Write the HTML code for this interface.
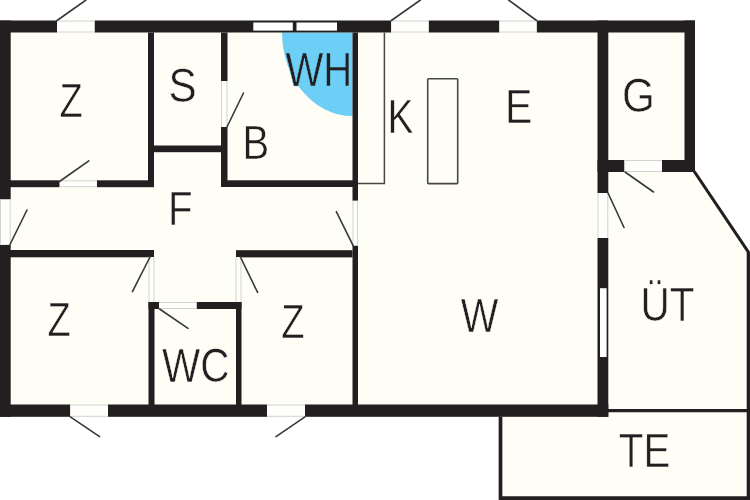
<!DOCTYPE html>
<html><head><meta charset="utf-8"><title>Floor plan</title>
<style>html,body{margin:0;padding:0;background:#fff;overflow:hidden}svg{display:block}text{font-family:"Liberation Sans",sans-serif}</style>
</head><body>
<svg width="750" height="500" viewBox="0 0 750 500">
<polygon points="0,20.5 695,20.5 695,172 749,252.5 749,499 500,499 500,416.8 0,416.8" fill="#fefef6"/>
<path d="M282,32.5 L352.5,32.5 L352.5,116 A70.5,83.5 0 0 1 282,32.5 Z" fill="#6dcff6"/>
<rect x="0" y="20.5" width="57" height="12.0" fill="#231f20" />
<rect x="94.5" y="20.5" width="296.8" height="12.0" fill="#231f20" />
<rect x="428.6" y="20.5" width="70.8" height="12.0" fill="#231f20" />
<rect x="536.6" y="20.5" width="158.4" height="12.0" fill="#231f20" />
<rect x="0" y="20.5" width="10.7" height="179.0" fill="#231f20" />
<rect x="0" y="244.7" width="10.7" height="172.1" fill="#231f20" />
<rect x="0" y="404.5" width="70.3" height="12.3" fill="#231f20" />
<rect x="108" y="404.5" width="159" height="12.3" fill="#231f20" />
<rect x="305" y="404.5" width="303.3" height="12.3" fill="#231f20" />
<rect x="597.5" y="20.5" width="10.8" height="172.5" fill="#231f20" />
<rect x="597.5" y="238" width="10.8" height="178.8" fill="#231f20" />
<rect x="684.5" y="20.5" width="10.5" height="151.5" fill="#231f20" />
<rect x="597.5" y="160" width="27.0" height="12" fill="#231f20" />
<rect x="662" y="160" width="33" height="12" fill="#231f20" />
<rect x="148" y="32.5" width="6" height="154.5" fill="#231f20" />
<rect x="10" y="180.3" width="49.7" height="6.9" fill="#231f20" />
<rect x="96.8" y="180.3" width="57.2" height="6.9" fill="#231f20" />
<rect x="221" y="32.5" width="6.5" height="48.5" fill="#231f20" />
<rect x="221" y="127" width="6.5" height="60" fill="#231f20" />
<rect x="154" y="145.5" width="67" height="6.7" fill="#231f20" />
<rect x="221" y="180.3" width="137" height="6.7" fill="#231f20" />
<rect x="352.5" y="32.5" width="5.5" height="168.3" fill="#231f20" />
<rect x="352.5" y="245.5" width="5.5" height="159.5" fill="#231f20" />
<rect x="10" y="250" width="144" height="7.3" fill="#231f20" />
<rect x="236" y="250.2" width="116.5" height="7.2" fill="#231f20" />
<rect x="148.5" y="302" width="6.0" height="103" fill="#231f20" />
<rect x="236" y="302" width="5.5" height="103" fill="#231f20" />
<rect x="148.5" y="302" width="10.5" height="7" fill="#231f20" />
<rect x="196.5" y="302" width="45.0" height="7" fill="#231f20" />
<rect x="57" y="20.5" width="37.5" height="12.0" fill="#fefefb" /><line x1="57" y1="21.0" x2="94.5" y2="21.0" stroke="#d2d2d0" stroke-width="1"/><line x1="57" y1="32.0" x2="94.5" y2="32.0" stroke="#d2d2d0" stroke-width="1"/>
<rect x="391.3" y="20.5" width="37.3" height="12.0" fill="#fefefb" /><line x1="391.3" y1="21.0" x2="428.6" y2="21.0" stroke="#d2d2d0" stroke-width="1"/><line x1="391.3" y1="32.0" x2="428.6" y2="32.0" stroke="#d2d2d0" stroke-width="1"/>
<rect x="499.4" y="20.5" width="37.2" height="12.0" fill="#fefefb" /><line x1="499.4" y1="21.0" x2="536.6" y2="21.0" stroke="#d2d2d0" stroke-width="1"/><line x1="499.4" y1="32.0" x2="536.6" y2="32.0" stroke="#d2d2d0" stroke-width="1"/>
<rect x="70.3" y="404.5" width="37.7" height="12.3" fill="#fefefb" /><line x1="70.3" y1="405.0" x2="108" y2="405.0" stroke="#d2d2d0" stroke-width="1"/><line x1="70.3" y1="416.3" x2="108" y2="416.3" stroke="#d2d2d0" stroke-width="1"/>
<rect x="267" y="404.5" width="38" height="12.3" fill="#fefefb" /><line x1="267" y1="405.0" x2="305" y2="405.0" stroke="#d2d2d0" stroke-width="1"/><line x1="267" y1="416.3" x2="305" y2="416.3" stroke="#d2d2d0" stroke-width="1"/>
<rect x="59.7" y="180.3" width="37.1" height="6.9" fill="#fefefb" /><line x1="59.7" y1="180.8" x2="96.8" y2="180.8" stroke="#d2d2d0" stroke-width="1"/><line x1="59.7" y1="186.7" x2="96.8" y2="186.7" stroke="#d2d2d0" stroke-width="1"/>
<rect x="159" y="302" width="37.5" height="7" fill="#fefefb" /><line x1="159" y1="302.5" x2="196.5" y2="302.5" stroke="#d2d2d0" stroke-width="1"/><line x1="159" y1="308.5" x2="196.5" y2="308.5" stroke="#d2d2d0" stroke-width="1"/>
<rect x="624.5" y="160" width="37.5" height="12" fill="#fefefb" /><line x1="624.5" y1="160.5" x2="662" y2="160.5" stroke="#d2d2d0" stroke-width="1"/><line x1="624.5" y1="171.5" x2="662" y2="171.5" stroke="#d2d2d0" stroke-width="1"/>
<rect x="0" y="199.5" width="10.7" height="45.2" fill="#fefefb" /><line x1="0.5" y1="199.5" x2="0.5" y2="244.7" stroke="#d2d2d0" stroke-width="1"/><line x1="10.2" y1="199.5" x2="10.2" y2="244.7" stroke="#d2d2d0" stroke-width="1"/>
<rect x="221" y="81" width="6.5" height="46" fill="#fefefb" /><line x1="221.5" y1="81" x2="221.5" y2="127" stroke="#d2d2d0" stroke-width="1"/><line x1="227.0" y1="81" x2="227.0" y2="127" stroke="#d2d2d0" stroke-width="1"/>
<rect x="352.5" y="200.8" width="5.5" height="44.7" fill="#fefefb" /><line x1="353.0" y1="200.8" x2="353.0" y2="245.5" stroke="#d2d2d0" stroke-width="1"/><line x1="357.5" y1="200.8" x2="357.5" y2="245.5" stroke="#d2d2d0" stroke-width="1"/>
<rect x="148.5" y="257" width="6.0" height="45" fill="#fefefb" /><line x1="149.0" y1="257" x2="149.0" y2="302" stroke="#d2d2d0" stroke-width="1"/><line x1="154.0" y1="257" x2="154.0" y2="302" stroke="#d2d2d0" stroke-width="1"/>
<rect x="235.5" y="257" width="6.0" height="45" fill="#fefefb" /><line x1="236.0" y1="257" x2="236.0" y2="302" stroke="#d2d2d0" stroke-width="1"/><line x1="241.0" y1="257" x2="241.0" y2="302" stroke="#d2d2d0" stroke-width="1"/>
<rect x="597.5" y="193" width="10.8" height="45" fill="#fefefb" /><line x1="598.0" y1="193" x2="598.0" y2="238" stroke="#d2d2d0" stroke-width="1"/><line x1="607.8" y1="193" x2="607.8" y2="238" stroke="#d2d2d0" stroke-width="1"/>
<rect x="253.3" y="22.5" width="39.5" height="8.1" fill="#ffffff" />
<rect x="296.5" y="22.5" width="40.5" height="8.1" fill="#ffffff" />
<rect x="600" y="288.2" width="6.6" height="68.8" fill="#ffffff" />
<path d="M384.4,32.5 V183.5 H358" fill="none" stroke="#484846" stroke-width="1.5"/>
<rect x="427.7" y="78.7" width="30" height="104.9" rx="0.8" fill="none" stroke="#484846" stroke-width="1.6"/>
<path d="M694.3,171.5 L749.3,253.4" fill="none" stroke="#231f20" stroke-width="3.1"/>
<rect x="746.7" y="252" width="3.3" height="248" fill="#231f20" />
<path d="M608,410.6 H750" fill="none" stroke="#231f20" stroke-width="3.2"/>
<path d="M500.5,416.5 V498.1 H750" fill="none" stroke="#231f20" stroke-width="3.7"/>
<line x1="57" y1="20.5" x2="86" y2="0" stroke="#383836" stroke-width="1.6" stroke-linecap="round"/>
<line x1="391.4" y1="20.5" x2="420.4" y2="0" stroke="#383836" stroke-width="1.6" stroke-linecap="round"/>
<line x1="536.6" y1="20.5" x2="508.6" y2="0" stroke="#383836" stroke-width="1.6" stroke-linecap="round"/>
<line x1="59.5" y1="181.5" x2="88.8" y2="160.8" stroke="#383836" stroke-width="1.6" stroke-linecap="round"/>
<line x1="226.7" y1="127.5" x2="243.5" y2="93" stroke="#383836" stroke-width="1.6" stroke-linecap="round"/>
<line x1="10" y1="244.5" x2="27" y2="210" stroke="#383836" stroke-width="1.6" stroke-linecap="round"/>
<line x1="353.5" y1="246.3" x2="336.3" y2="211.7" stroke="#383836" stroke-width="1.6" stroke-linecap="round"/>
<line x1="150" y1="257" x2="132.4" y2="291.6" stroke="#383836" stroke-width="1.6" stroke-linecap="round"/>
<line x1="240.4" y1="257" x2="257.6" y2="292.4" stroke="#383836" stroke-width="1.6" stroke-linecap="round"/>
<line x1="159.6" y1="309" x2="188" y2="328.4" stroke="#383836" stroke-width="1.6" stroke-linecap="round"/>
<line x1="70.3" y1="416.8" x2="99.6" y2="436.6" stroke="#383836" stroke-width="1.6" stroke-linecap="round"/>
<line x1="305" y1="416.8" x2="276" y2="436.6" stroke="#383836" stroke-width="1.6" stroke-linecap="round"/>
<line x1="625" y1="172" x2="653.5" y2="192" stroke="#383836" stroke-width="1.6" stroke-linecap="round"/>
<line x1="608" y1="193" x2="624" y2="227.5" stroke="#383836" stroke-width="1.6" stroke-linecap="round"/>
<g style="isolation:isolate;mix-blend-mode:normal" opacity="0.998">
<text transform="translate(59.49,117.07) scale(0.867,1.1)" font-size="44" fill="#231f20" stroke="#fefef6" stroke-width="0.5">Z</text>
<text transform="translate(168.58,102.12) scale(0.96,1.1)" font-size="44" fill="#231f20" stroke="#fefef6" stroke-width="0.5">S</text>
<text transform="translate(242.52,158.96) scale(0.91,1.1)" font-size="44" fill="#231f20" stroke="#fefef6" stroke-width="0.5">B</text>
<text transform="translate(285.42,86.27) scale(0.912,1.1)" font-size="44" fill="#231f20" stroke="#6dcff6" stroke-width="0.5">WH</text>
<text transform="translate(387.51,132.56) scale(0.885,1.1)" font-size="44" fill="#231f20" stroke="#fefef6" stroke-width="0.5">K</text>
<text transform="translate(504.93,122.92) scale(0.937,1.1)" font-size="44" fill="#231f20" stroke="#fefef6" stroke-width="0.5">E</text>
<text transform="translate(621.88,111.92) scale(0.962,1.1)" font-size="44" fill="#231f20" stroke="#fefef6" stroke-width="0.5">G</text>
<text transform="translate(168.0,224.92) scale(0.916,1.1)" font-size="44" fill="#231f20" stroke="#fefef6" stroke-width="0.5">F</text>
<text transform="translate(47.54,336.06) scale(0.867,1.1)" font-size="44" fill="#231f20" stroke="#fefef6" stroke-width="0.5">Z</text>
<text transform="translate(162.12,382.16) scale(0.92,1.1)" font-size="44" fill="#231f20" stroke="#fefef6" stroke-width="0.5">WC</text>
<text transform="translate(281.34,337.61) scale(0.867,1.1)" font-size="44" fill="#231f20" stroke="#fefef6" stroke-width="0.5">Z</text>
<text transform="translate(460.82,332.42) scale(0.905,1.1)" font-size="44" fill="#231f20" stroke="#fefef6" stroke-width="0.5">W</text>
<text transform="translate(640.57,321.47) scale(0.921,1.1)" font-size="44" fill="#231f20" stroke="#fefef6" stroke-width="0.5">ÜT</text>
<text transform="translate(618.78,467.06) scale(0.917,1.1)" font-size="44" fill="#231f20" stroke="#fefef6" stroke-width="0.5">TE</text>
</g>
</svg>
</body></html>
